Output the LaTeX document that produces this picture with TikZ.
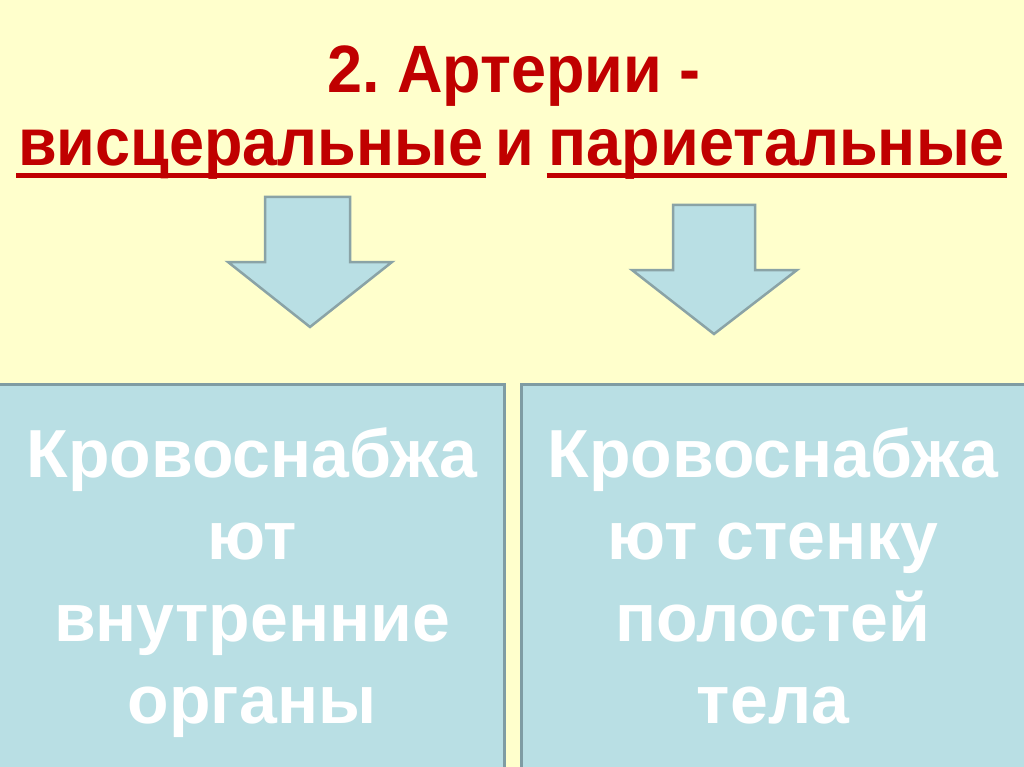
\documentclass[tikz,border=0pt]{standalone}
\usepackage{fontspec}
\setmainfont{Liberation Sans}
\newfontfamily\titlefont[FakeStretch=0.94]{Liberation Sans}
\definecolor{bg}{HTML}{FFFFCC}
\definecolor{boxfill}{HTML}{B9DFE4}
\definecolor{boxline}{HTML}{7F9CA3}
\definecolor{arrowline}{HTML}{8AA3A6}
\definecolor{titlered}{HTML}{C00000}
\begin{document}
\begin{tikzpicture}[x=1pt,y=-1pt,
  box/.style={draw=boxline, line width=3pt, fill=boxfill, inner sep=0pt, anchor=north west},
  blockarrow/.style={draw=arrowline, line width=2.5pt, fill=boxfill, line join=miter},
  titletext/.style={text=titlered, font=\titlefont\bfseries\fontsize{67}{73}\selectfont, inner sep=0pt},
  bodytext/.style={text=white, font=\bfseries\fontsize{68}{82}\selectfont, align=center, inner sep=0pt, anchor=north},
  ul/.style={draw=titlered, line width=5pt}]
\useasboundingbox (0,0) rectangle (1024,767);
\clip (0,0) rectangle (1024,767);
\fill[bg] (0,0) rectangle (1024,767);
% boxes
\node[box, minimum width=513pt, minimum height=400pt] (leftbox) at (-10,383) {};
\node[box, minimum width=515pt, minimum height=400pt] (rightbox) at (520,383) {};
% arrows
\draw[blockarrow] (265,197) -- (350,197) -- (350,262) -- (392,262) -- (310,327) -- (228,262) -- (265,262) -- cycle;
\draw[blockarrow] (673,205) -- (755,205) -- (755,270) -- (797,270) -- (714,334) -- (632,270) -- (673,270) -- cycle;
% title
\node[titletext, anchor=base] (t1) at (514,93) {2.\ Артерии -};
\node[titletext, anchor=base west] (w1) at (18,166) {висцеральные};
\node[titletext, anchor=base east] (w2) at (1005,166) {париетальные};
\node[titletext, anchor=base] (wand) at (515,166) {и};
\draw[ul] ([xshift=-2pt,yshift=-10pt]w1.base west) -- ([xshift=2pt,yshift=-10pt]w1.base east);
\draw[ul] ([xshift=-2pt,yshift=-10pt]w2.base west) -- ([xshift=2pt,yshift=-10pt]w2.base east);
% body text
\node[bodytext] (lt) at (252,427.5) {Кровоснабжа\\ют\\внутренние\\органы};
\node[bodytext] (rt) at (773,427.5) {Кровоснабжа\\ют стенку\\полостей\\тела};
\end{tikzpicture}
\end{document}
